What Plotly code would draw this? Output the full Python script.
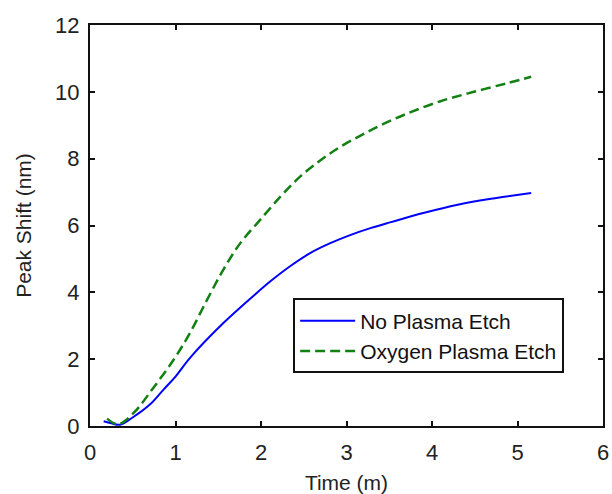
import plotly.graph_objects as go

# Peak shift over time, with and without oxygen plasma etch
time_no_etch = [0.16, 0.25, 0.35, 0.49, 0.70, 0.86, 1.0, 1.17, 1.56, 1.95,
                2.11, 2.34, 2.58, 2.81, 3.05, 3.28, 3.52, 3.91, 4.30, 4.69, 5.16]
shift_no_etch = [0.14, 0.08, 0.04, 0.24, 0.64, 1.09, 1.48, 2.04, 3.08, 3.98,
                 4.33, 4.78, 5.18, 5.47, 5.72, 5.92, 6.10, 6.38, 6.62, 6.80, 6.97]

time_o2_etch = [0.20, 0.33, 0.51, 0.74, 0.98, 1.17, 1.37, 1.56, 1.76, 1.99,
                2.23, 2.46, 2.70, 2.93, 3.17, 3.40, 3.71, 4.10, 4.49, 4.88, 5.16]
shift_o2_etch = [0.22, 0.05, 0.39, 1.14, 1.99, 2.79, 3.78, 4.68, 5.48, 6.17,
                 6.87, 7.47, 7.96, 8.36, 8.70, 9.00, 9.35, 9.72, 10.0, 10.26, 10.45]

x_ticks = [0, 1, 2, 3, 4, 5, 6]
y_ticks = [0, 2, 4, 6, 8, 10, 12]

FONT = "Liberation Sans, Arial, sans-serif"

fig = go.Figure()
fig.add_trace(go.Scatter(
    x=time_no_etch, y=shift_no_etch, mode="lines", name="No Plasma Etch",
    line=dict(color="#0000ff", width=2, shape="spline", smoothing=1.0),
))
fig.add_trace(go.Scatter(
    x=time_o2_etch, y=shift_o2_etch, mode="lines", name="Oxygen Plasma Etch",
    line=dict(color="#138013", width=2.5, dash="10px,5px", shape="spline", smoothing=1.0),
))

axis_common = dict(
    showgrid=False, zeroline=False,
    showline=True, linecolor="#111", linewidth=2,
    mirror="ticks", ticks="inside", ticklen=5, tickwidth=1.5, tickcolor="#111",
    tickfont=dict(family=FONT, size=22, color="#222"),
)

fig.update_xaxes(
    range=[0, 6], tickvals=x_ticks, ticktext=[str(v) for v in x_ticks],
    ticklabelstandoff=6,
    title=dict(text="Time (m)", font=dict(family=FONT, size=21, color="#222"), standoff=12),
    **axis_common,
)
fig.update_yaxes(
    range=[0, 12], tickvals=y_ticks, ticktext=[str(v) for v in y_ticks],
    ticklabelstandoff=4,
    title=dict(text="Peak Shift (nm)", font=dict(family=FONT, size=21, color="#222"), standoff=18),
    **axis_common,
)

fig.update_layout(
    width=612, height=494,
    margin=dict(l=90, r=9, t=25, b=68, autoexpand=False),
    paper_bgcolor="white", plot_bgcolor="white",
    font=dict(family=FONT, size=22, color="#222"),
    legend=dict(
        x=0.396, y=0.318, xanchor="left", yanchor="top",
        bgcolor="white", bordercolor="#111", borderwidth=2,
        font=dict(family=FONT, size=21, color="#111"),
        tracegroupgap=0, itemwidth=55,
    ),
)

fig.write_html("out.html")
